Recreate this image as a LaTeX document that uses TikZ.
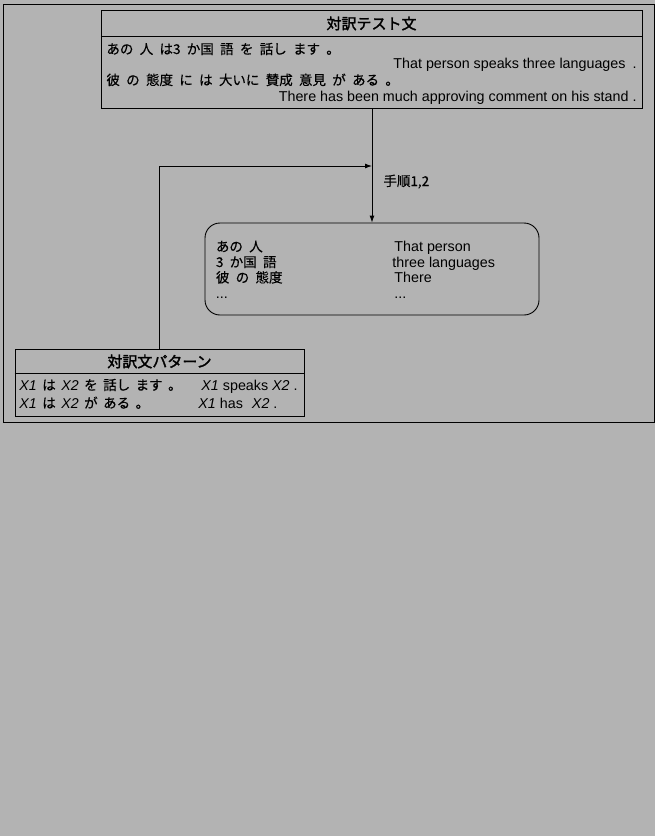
\documentclass[tikz,border=0pt]{standalone}
\usepackage{fontspec}
\setmainfont{Liberation Sans}
\newfontfamily\jpf[FakeBold=0.4]{Noto Sans CJK JP}
\newfontfamily\jpbf[FakeBold=2]{Noto Sans CJK JP}
\usetikzlibrary{arrows.meta}
\definecolor{bg}{RGB}{179,179,179}
\newcommand\Xvar[1]{{\rmfamily\itshape\fontsize{14.2}{16}\selectfont #1}}
\newcommand\jlfont{\jpf\fontsize{13.5}{15}\selectfont\spaceskip 6.3pt\relax}
\newcommand\jmfont{\jpf\fontsize{13.5}{15}\selectfont\spaceskip 5.5pt\relax}
\begin{document}
\begin{tikzpicture}[x=1pt,y=-1pt,line width=0.9pt,
  box/.style={draw,inner sep=0pt},
  en/.style={inner sep=0pt,font=\fontsize{14.3}{16}\selectfont},
  jl/.style={inner sep=0pt,font=\jlfont},
  jm/.style={inner sep=0pt,font=\jmfont},
  ttl/.style={inner sep=0pt,font=\jpbf\fontsize{15}{17}\selectfont},
  arr/.style={-{Latex[length=7pt,width=5pt]}}]
\fill[bg] (0,0) rectangle (655,836);
\useasboundingbox (0,0) rectangle (655,836);
\draw (3,4) rectangle (654,422);
% top box
\node[box,minimum width=541.5pt,minimum height=98pt] (top) at (372,59.2) {};
\draw (top.west |- 0,36) -- (top.east |- 0,36);
\node[ttl] (toptitle) at (371.5,23.5) {対訳テスト文};
\node[jl,anchor=base west] (t1) at (106,54) {あの 人 は3 か国 語 を 話し ます 。};
\node[en,anchor=base east] (t2) at (637,68.5) {That person speaks three languages\hspace{7pt}.};
\node[jl,anchor=base west] (t3) at (106,85) {彼 の 態度 に は 大いに 賛成 意見 が ある 。};
\node[en,anchor=base east] (t4) at (637,101) {There has been much approving comment on his stand .};
% rounded result box
\node[box,rounded corners=15pt,minimum width=334pt,minimum height=92pt] (res) at (372,269) {};
\node[jl,anchor=base west] (r1) at (215.5,251.5) {あの 人};
\node[jl,anchor=base west] (r2) at (215.5,267) {3 か国 語};
\node[jl,anchor=base west] (r3) at (215.5,282.5) {彼 の 態度};
\node[en,anchor=base west] (r4) at (215.5,298) {...};
\node[en,anchor=base west] (e1) at (394,251.5) {That person};
\node[en,anchor=base west] (e2) at (392,267) {three languages};
\node[en,anchor=base west] (e3) at (394,282.5) {There};
\node[en,anchor=base west] (e4) at (394,298) {...};
% pattern box
\node[box,minimum width=289pt,minimum height=67pt] (pat) at (159.5,382.5) {};
\draw[line width=1.3pt] (pat.west |- 0,373.5) -- (pat.east |- 0,373.5);
\node[ttl] (pattitle) at (159.5,361.5) {対訳文パターン};
\node[jm,anchor=base west] (p1) at (19,390) {\Xvar{X1} は \Xvar{X2} を 話し ます 。};
\node[jm,anchor=base west] (p2) at (19,408) {\Xvar{X1} は \Xvar{X2} が ある 。};
\node[en,anchor=base west] (q1) at (201,390) {\textit{X1} speaks \textit{X2} .};
\node[en,anchor=base west] (q2) at (198,408) {\textit{X1} has\hspace{9pt}\textit{X2} .};
% connectors
\coordinate (join) at (372,166);
\draw[arr] (top.south) -- (res.north);
\draw[arr] (pat.north) |- (join);
\node[inner sep=0pt,font=\jpf\fontsize{13.5}{15}\selectfont,anchor=base west] (lbl) at (383,186) {手順1,2};
\end{tikzpicture}
\end{document}
